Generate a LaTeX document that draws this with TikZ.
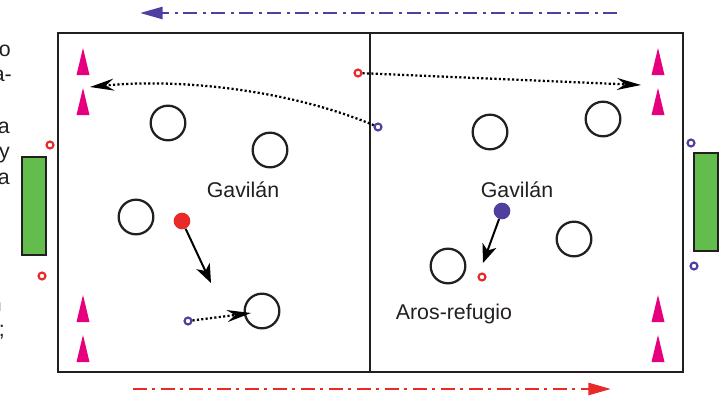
\documentclass[tikz,border=0pt]{standalone}
\usepackage{xcolor}
\usepackage{fontspec}
\setmainfont{Liberation Sans}
\usepackage{tikz}
\usetikzlibrary{arrows.meta}

\begin{document}
\begin{tikzpicture}[x=0.75pt,y=0.75pt,yscale=-1,xscale=1,
  txt/.style={inner sep=0pt,font=\fontsize{16}{19}\selectfont,text={rgb, 255:red, 35; green, 31; blue, 32 }},
  field/.style={draw={rgb, 255:red, 35; green, 31; blue, 32 },line width=2pt},
  cone/.style={fill={rgb, 255:red, 230; green, 0; blue, 126 }},
  goal/.style={fill={rgb, 255:red, 99; green, 189; blue, 76 },draw={rgb, 255:red, 35; green, 31; blue, 32 },line width=1.6pt},
  hoop/.style={circle,draw={rgb, 255:red, 35; green, 31; blue, 32 },line width=1.7pt,minimum size=26pt,inner sep=0pt},
  ringr/.style={circle,draw={rgb, 255:red, 232; green, 42; blue, 40 },line width=1.6pt,minimum size=5.2pt,inner sep=0pt},
  ringb/.style={circle,draw={rgb, 255:red, 80; green, 62; blue, 160 },line width=1.6pt,minimum size=5.2pt,inner sep=0pt},
  dotr/.style={circle,fill={rgb, 255:red, 232; green, 42; blue, 40 },minimum size=12.5pt,inner sep=0pt},
  dotb/.style={circle,fill={rgb, 255:red, 80; green, 62; blue, 160 },minimum size=12.5pt,inner sep=0pt},
  run/.style={line width=1.5pt,-{Stealth[length=14pt,width=11pt,inset=4pt]}},
  ball/.style={line width=1.7pt,dash pattern=on 1.6pt off 1.7pt,-{Stealth[length=18pt,width=9pt,inset=6pt]}},
  sweep/.style={line width=2pt,dash pattern=on 10.5pt off 3.8pt on 2.5pt off 4.2pt},
]
\useasboundingbox (0,0) rectangle (725,397);

%Shape: Field
\draw [field] (58,33) rectangle (683,372);
\draw [field] (370,32) -- (370,372);

%Shape: Goals
\draw [goal] (22,157) rectangle (46,255);
\draw [goal] (694,153) rectangle (718,251);

%Shape: Cones
\fill [cone] (76.5,75) -- (83,48) -- (89.5,75) -- cycle;
\fill [cone] (76.5,115) -- (83,88) -- (89.5,115) -- cycle;
\fill [cone] (76.5,322) -- (83,295) -- (89.5,322) -- cycle;
\fill [cone] (76.5,362) -- (83,335) -- (89.5,362) -- cycle;
\fill [cone] (651.5,75) -- (658,48) -- (664.5,75) -- cycle;
\fill [cone] (651.5,115) -- (658,88) -- (664.5,115) -- cycle;
\fill [cone] (651.5,322) -- (658,295) -- (664.5,322) -- cycle;
\fill [cone] (651.5,362) -- (658,335) -- (664.5,362) -- cycle;

%Shape: Hoops
\node [hoop] (hoopA) at (168,123) {};
\node [hoop] (hoopB) at (270,150) {};
\node [hoop] (hoopC) at (136,217) {};
\node [hoop] (hoopD) at (262,311) {};
\node [hoop] (hoopE) at (490,132) {};
\node [hoop] (hoopF) at (603,119) {};
\node [hoop] (hoopG) at (574,239) {};
\node [hoop] (hoopH) at (448,266) {};

%Shape: Rings
\node [ringr] (ringR1) at (358,73) {};
\node [ringb] (ringB1) at (378,127) {};
\node [ringb] (ringB2) at (188,321) {};
\node [ringr] (ringR2) at (482,277) {};
\node [ringr] (ringR3) at (50,145) {};
\node [ringr] (ringR4) at (42,276) {};
\node [ringb] (ringB3) at (691,143) {};
\node [ringb] (ringB4) at (694,266) {};

%Shape: Players
\node [dotr] (hawkR) at (182,221) {};
\node [dotb] (hawkB) at (502,211) {};

% Text Node
\node [txt] (lblHawkL) at (243,190) {Gavilán};
% Text Node
\node [txt] (lblHawkR) at (517,190) {Gavilán};
% Text Node
\node [txt] (lblHoops) at (454,314) {Aros-refugio};

% Text Node (cut column)
\node [txt,anchor=base east] (cutA) at (11,56) {o};
\node [txt,anchor=base east] (cutB) at (12,81) {a-};
\node [txt,anchor=base east] (cutC) at (10,133) {a};
\node [txt,anchor=base east] (cutD) at (10,158) {y};
\node [txt,anchor=base east] (cutE) at (10,184) {a};
\node [txt,anchor=base east] (cutF) at (2,311) {n};
\node [txt,anchor=base east] (cutG) at (5,336) {;};

% Connection ends
\coordinate (runR) at (211,283);
\coordinate (runB) at (483,263);
\coordinate (passD) at (251,313);
\coordinate (passR) at (641,85);
\coordinate (passL) at (90,87);
\coordinate (sweepBs) at (617,13);
\coordinate (sweepBe) at (140,13);
\coordinate (sweepRs) at (133,389);
\coordinate (sweepRe) at (611,389);

% Connection
\draw [run] (hawkR) -- (runR);
% Connection
\draw [run] (hawkB) -- (runB);
% Connection
\draw [ball] (ringB2) -- (passD);
% Connection
\draw [ball] (ringR1) -- (passR);
% Connection
\draw [ball] (ringB1) .. controls (290,90) and (180,78) .. (passL);
% Connection
\draw [sweep,draw={rgb, 255:red, 80; green, 62; blue, 160 },-{Triangle[length=17pt,width=9pt,fill={rgb, 255:red, 80; green, 62; blue, 160 }]}] (sweepBs) -- (sweepBe);
% Connection
\draw [sweep,draw={rgb, 255:red, 232; green, 42; blue, 40 },-{Triangle[length=17pt,width=9pt,fill={rgb, 255:red, 232; green, 42; blue, 40 }]}] (sweepRs) -- (sweepRe);

\end{tikzpicture}
\end{document}
